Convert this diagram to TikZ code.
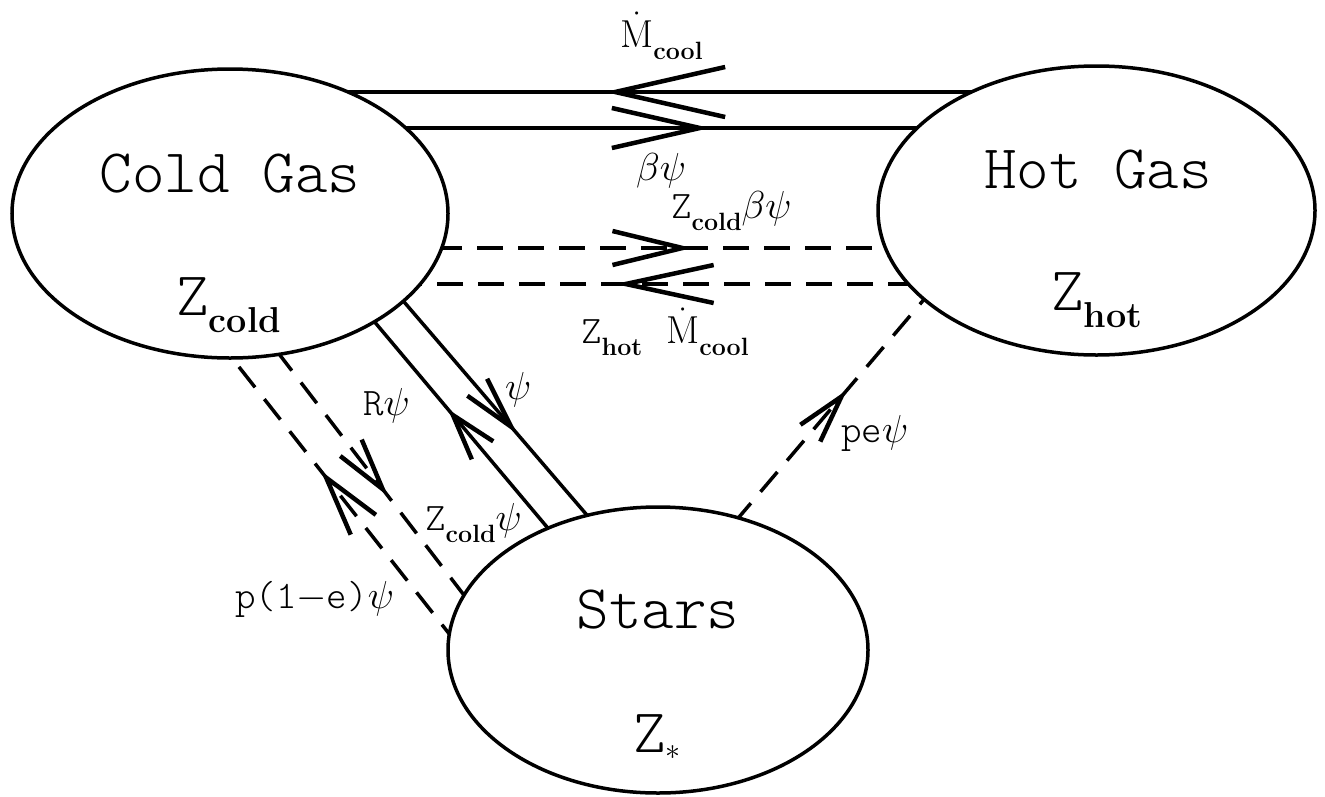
\RequirePackage{fix-cm}
\documentclass[tikz,border=0pt]{standalone}
\usetikzlibrary{shapes.geometric,arrows.meta,decorations.markings,backgrounds}
\newcommand{\subs}[3]{\raisebox{-#2pt}{\fontsize{#1}{#1}\selectfont\rmfamily\bfseries #3}}
\begin{document}
\begin{tikzpicture}[x=1pt,y=-1pt,
  ell/.style={draw, ellipse, line width=3.5pt, fill=white, inner sep=0pt},
  flow/.style={line width=3.5pt},
  dflow/.style={flow, dash pattern=on 26pt off 15pt},
  big/.style={font=\fontsize{62}{62}\selectfont\ttfamily\fontseries{l}\selectfont, inner sep=0pt},
  lbl/.style={font=\fontsize{39}{39}\selectfont\ttfamily\fontseries{l}\selectfont, inner sep=0pt},
  midtip/.style n args={3}{postaction={decorate,decoration={markings,
     mark=at position #1pt with {\arrow{Straight Barb[length=#2pt,width=#3pt,line width=4.5pt]}}}}}
]
\useasboundingbox (0,0) rectangle (1325,796);

% compartments
\node[ell, minimum width=436pt, minimum height=289pt] (cold) at (230,213.5) {};
\node[ell, minimum width=437pt, minimum height=289pt] (hot) at (1096.5,210.5) {};
\node[ell, minimum width=420pt, minimum height=286pt] (stars) at (658,650) {};

% connector end points (just inside the ellipses)
\coordinate (c1) at (342,92);  \coordinate (h1) at (981,92);
\coordinate (c2) at (400,128); \coordinate (h2) at (923,128);
\coordinate (c3) at (436,248); \coordinate (h3) at (891,248);
\coordinate (c4) at (414,284); \coordinate (h4) at (914,284);
\coordinate (cA) at (373,320); \coordinate (sA) at (552,533);
\coordinate (cB) at (399,296); \coordinate (sB) at (592,521);
\coordinate (cC) at (228,353); \coordinate (sC) at (458,645);
\coordinate (cD) at (276,350); \coordinate (sD) at (470,603);
\coordinate (sE) at (734,523); \coordinate (hE) at (932,290);

\begin{pgfonlayer}{background}
\draw[flow, midtip={376}{110}{50}] (h1) -- (c1);
\draw[flow, midtip={310}{88}{40}] (c2) -- (h2);
\draw[dflow, midtip={256}{70}{34}] (c3) -- (h3);
\draw[dflow, midtip={299}{88}{38}] (h4) -- (c4);
\draw[flow, midtip={161.7}{46}{28}] (sA) -- (cA);
\draw[flow, midtip={181.5}{52}{26}] (cB) -- (sB);
\draw[dflow, midtip={221.8}{60}{32}] (sC) -- (cC);
\draw[dflow, midtip={184.2}{52}{27}] (cD) -- (sD);
\draw[dflow, midtip={174.5}{48}{26}] (sE) -- (hE);
\end{pgfonlayer}

% compartment texts
\node[big, anchor=base] (coldname) at (230,192) {Cold Gas};
\node[big, anchor=base west] (coldZ) at (176,315) {Z\subs{36}{17}{cold}};
\node[big, anchor=base] (hotname) at (1098,188) {Hot Gas};
\node[big, anchor=base west] (hotZ) at (1051,310) {Z\subs{36}{17}{hot}};
\node[big, anchor=base] (starsname) at (658,628) {Stars};
\node[big, anchor=base west] (starsZ) at (633,752) {Z\raisebox{-7pt}{\fontsize{30}{30}\selectfont$\ast$}};

% flow labels
\node[lbl, anchor=base west] (lMtop) at (620,47) {$\dot{\mathrm{M}}$\subs{25}{12}{cool}};
\node[lbl, anchor=base west] (lbeta) at (636,180) {$\beta\psi$};
\node[lbl, anchor=base west] (lZcb) at (671,218) {Z\subs{25}{12}{cold}$\beta\psi$};
\node[lbl, anchor=base west] (lZh) at (581,343) {Z\subs{25}{12}{hot}};
\node[lbl, anchor=base west] (lMlow) at (666,343) {$\dot{\mathrm{M}}$\subs{25}{12}{cool}};
\node[lbl, anchor=base west] (lR) at (363,415) {R$\psi$};
\node[lbl, anchor=base west] (lpsi) at (505,399) {$\psi$};
\node[lbl, anchor=base west] (lpe) at (841,442) {pe$\psi$};
\node[lbl, anchor=base west] (lZc) at (425,530) {Z\subs{25}{12}{cold}$\psi$};
\node[lbl, anchor=base west] (lp) at (235,608) {p(1${-}$e)$\psi$};
\end{tikzpicture}
\end{document}
